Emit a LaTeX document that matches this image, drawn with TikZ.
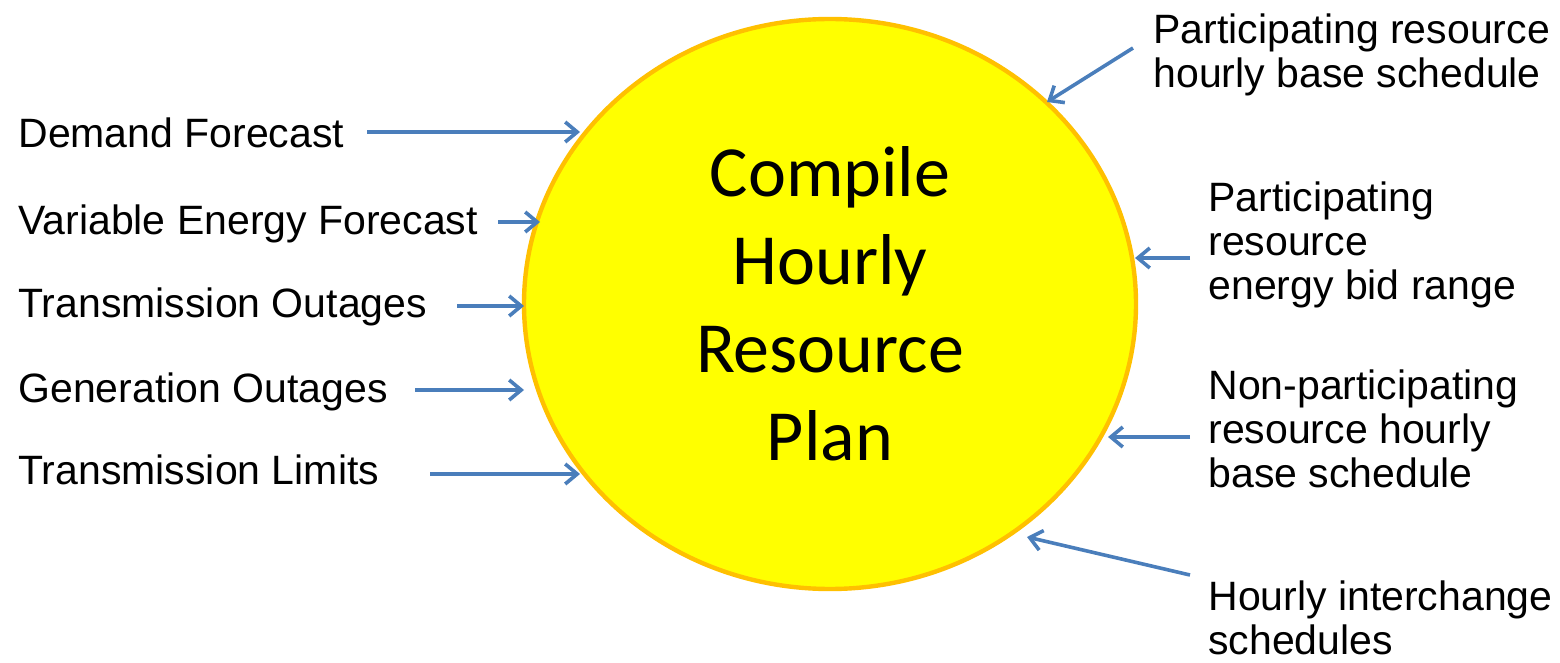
\documentclass[tikz,border=0pt]{standalone}
\usepackage{fontspec}
\setmainfont{Liberation Sans}
\newfontfamily\calib{Carlito}
\usetikzlibrary{shapes.geometric}
\usetikzlibrary{arrows.meta}

\definecolor{feedblue}{RGB}{74,126,187}
\definecolor{sunrim}{RGB}{255,192,0}
\definecolor{sunfill}{RGB}{255,255,0}

\begin{document}
\begin{tikzpicture}[x=0.5pt, y=-0.5pt,
    feed/.style={draw=feedblue, line width=1.8pt, -{Straight Barb[length=6pt, width=10pt]}},
    source/.style={anchor=base west, inner sep=0, font=\fontsize{20.5pt}{22pt}\selectfont},
    sink/.style={anchor=north west, inner sep=0, align=left, font=\fontsize{20.5pt}{22pt}\selectfont}]
        \useasboundingbox (0,0) rectangle (1560,663);

        \node [ellipse, draw=sunrim, line width=2.2pt, fill=sunfill, inner sep=0,
               minimum width=306pt, minimum height=285pt, align=center,
               font=\calib\fontsize{36pt}{44pt}\selectfont] (plan) at (830,304)
               {Compile\\Hourly\\Resource\\Plan};

        % inputs on the left
        \foreach \txt/\basey/\arry/\tailx/\tipx [count=\i] in {
            Demand Forecast/148/132/367/580,
            Variable Energy Forecast/235/222/498/540,
            Transmission Outages/318/306/457/524,
            Generation Outages/403/390/415/524,
            Transmission Limits/485/474/430/580} {
          \node [source] (src\i) at (18,\basey) {\txt};
          \coordinate (srctail\i) at (\tailx,\arry);
          \coordinate (srctip\i) at (\tipx,\arry);
          \draw [feed] (srctail\i) -- (srctip\i);
        }

        % inputs on the right
        \foreach \txt/\lx/\topy/\tailx/\taily/\tipx/\tipy [count=\j] in {
            {Participating resource\\hourly base schedule}/1153/13/1133/48/1047/102,
            {Participating\\resource\\energy bid range}/1208/181/1190/258/1135/258,
            {Non-participating\\resource hourly\\base schedule}/1208/369/1190/437/1108/437,
            {Hourly interchange\\schedules}/1208/580/1190/575/1027/537} {
          \node [sink] (snk\j) at (\lx,\topy) {\txt};
          \coordinate (snktail\j) at (\tailx,\taily);
          \coordinate (snktip\j) at (\tipx,\tipy);
          \draw [feed] (snktail\j) -- (snktip\j);
        }
      \end{tikzpicture}
\end{document}
